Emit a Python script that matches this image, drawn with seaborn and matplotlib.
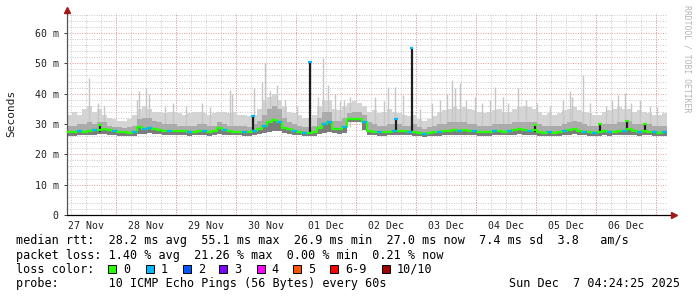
import numpy as np
import pandas as pd
import matplotlib
matplotlib.use("Agg")
import matplotlib.pyplot as plt
import matplotlib.dates as mdates
from matplotlib.ticker import MultipleLocator, FuncFormatter
from matplotlib.patches import Rectangle
import seaborn as sns

# ---------------- data ----------------
start = pd.Timestamp("2025-11-27 04:24:25")
end = pd.Timestamp("2025-12-07 04:24:25")
step_hours = 2

median_ms = [27.3, 27.4, 27.6, 27.5, 27.8, 27.9, 28.0, 28.3, 28.0, 27.6,
             27.4, 27.3, 27.2, 27.5, 29.0, 28.4, 28.8, 28.3, 28.0, 27.8,
             27.7, 27.8, 27.6, 27.6, 27.4, 27.5, 27.6, 27.6, 27.5, 27.7,
             28.6, 28.0, 27.6, 27.5, 27.5, 27.4, 27.4, 27.8, 28.3, 29.2,
             30.5, 31.3, 30.5, 28.8, 28.2, 27.8, 27.5, 27.2, 27.1, 27.4,
             28.8, 30.0, 30.6, 28.5, 28.4, 29.0, 31.6, 31.8, 31.7, 30.5,
             27.8, 27.5, 27.3, 27.4, 27.5, 27.6, 27.7, 27.6, 27.5, 27.4,
             27.0, 26.6, 27.1, 27.3, 27.5, 27.6, 27.8, 28.0, 27.8, 28.0,
             27.8, 27.7, 27.4, 27.3, 27.5, 27.7, 27.8, 27.5, 27.6, 28.0,
             28.2, 27.9, 27.8, 27.9, 27.4, 27.2, 27.3, 27.2, 27.4, 27.6,
             28.0, 28.4, 27.8, 27.5, 27.3, 27.2, 27.4, 27.6, 27.4, 27.5,
             27.6, 27.8, 28.2, 27.6, 27.5, 27.6, 27.5, 27.3, 27.2, 27.3]

low_ms = [26.2, 26.2, 26.3, 26.3, 26.4, 26.5, 26.6, 26.6, 26.5, 26.3,
          26.2, 26.1, 26.0, 26.2, 26.8, 26.8, 26.9, 26.7, 26.6, 26.5,
          26.4, 26.5, 26.3, 26.3, 26.2, 26.3, 26.4, 26.3, 26.2, 26.3,
          26.6, 26.5, 26.4, 26.3, 26.3, 26.2, 26.2, 26.4, 26.6, 27.0,
          27.5, 27.8, 27.6, 27.0, 26.7, 26.5, 26.3, 26.1, 26.0, 26.2,
          26.8, 27.2, 27.5, 26.9, 26.8, 27.0, 30.5, 30.8, 30.8, 28.0,
          26.5, 26.3, 26.2, 26.2, 26.3, 26.3, 26.4, 26.3, 26.3, 26.2,
          25.9, 25.6, 25.9, 26.1, 26.2, 26.3, 26.4, 26.5, 26.4, 26.5,
          26.4, 26.4, 26.2, 26.1, 26.2, 26.4, 26.4, 26.3, 26.3, 26.5,
          26.6, 26.5, 26.4, 26.4, 26.2, 26.1, 26.1, 26.0, 26.2, 26.3,
          26.5, 26.6, 26.4, 26.3, 26.2, 26.1, 26.2, 26.3, 26.2, 26.3,
          26.3, 26.4, 26.5, 26.3, 26.2, 26.3, 26.3, 26.1, 26.1, 26.2]

mid_ms = [29.5, 29.5, 30.0, 30.0, 30.5, 30.0, 30.5, 30.5, 29.5, 29.0,
          29.0, 28.8, 29.0, 29.5, 31.5, 32.0, 32.0, 31.0, 30.5, 30.0,
          30.0, 30.0, 29.5, 29.5, 29.5, 29.5, 30.0, 30.0, 29.5, 29.5,
          30.5, 30.0, 29.5, 29.5, 29.5, 29.5, 29.0, 30.0, 31.0, 33.0,
          35.0, 36.0, 35.0, 32.0, 30.5, 30.0, 29.5, 29.0, 29.0, 29.5,
          32.0, 34.0, 34.0, 31.0, 31.0, 32.0, 33.5, 34.0, 34.0, 33.0,
          30.5, 30.0, 29.5, 29.5, 30.0, 30.0, 30.0, 29.5, 29.5, 30.0,
          29.0, 28.5, 29.0, 29.5, 30.0, 30.0, 30.5, 30.5, 30.5, 30.5,
          30.0, 30.0, 29.5, 29.5, 29.5, 30.0, 30.0, 30.0, 30.0, 30.5,
          30.5, 30.5, 30.5, 30.5, 30.0, 29.5, 29.5, 29.5, 29.5, 30.0,
          30.5, 31.0, 30.5, 30.0, 29.5, 29.5, 29.5, 30.0, 30.0, 30.0,
          30.5, 30.5, 31.0, 30.0, 30.0, 30.0, 30.0, 29.5, 29.5, 29.5]

high_ms = [33.0, 34.0, 33.0, 35.0, 36.0, 34.0, 35.0, 33.0, 32.0, 31.5,
           31.0, 31.0, 31.5, 33.0, 35.0, 36.0, 35.0, 34.0, 34.0, 33.5,
           34.0, 34.0, 33.5, 33.0, 33.5, 34.0, 34.0, 33.5, 33.0, 33.5,
           34.0, 34.0, 33.5, 34.0, 33.0, 33.0, 32.5, 33.0, 35.0, 38.0,
           39.0, 40.0, 38.0, 36.0, 34.0, 33.5, 33.0, 32.0, 32.0, 33.0,
           36.0, 38.0, 38.0, 35.0, 34.5, 36.0, 37.0, 37.5, 37.0, 36.0,
           34.0, 34.5, 33.5, 34.0, 35.0, 34.0, 33.5, 33.0, 32.5, 33.0,
           31.5, 31.0, 31.5, 32.5, 34.0, 34.5, 35.0, 35.5, 35.0, 35.5,
           35.0, 34.5, 34.0, 33.5, 34.0, 34.5, 35.0, 34.0, 34.0, 35.0,
           35.5, 36.0, 35.5, 35.0, 34.0, 33.0, 33.5, 33.0, 33.5, 34.5,
           35.0, 35.5, 34.5, 34.0, 33.5, 33.0, 33.0, 34.0, 34.5, 35.0,
           35.5, 35.0, 35.0, 34.0, 34.5, 34.0, 33.5, 33.0, 33.0, 33.5]

# steps whose median had one lost ping (loss color 1)
loss1_steps = [2, 5, 9, 13, 15, 16, 20, 24, 27, 31, 35, 37, 39, 42, 45, 47,
               51, 52, 55, 59, 62, 65, 68, 71, 74, 78, 81, 85, 88, 92, 96,
               99, 103, 105, 108, 111, 114, 117, 119]

# isolated max-ping peaks (hours after start, ms)
peak_hours = [8.8, 12.4, 14.8, 28.0, 28.8, 31.6, 32.8, 39.2, 42.4, 47.6,
              54.0, 57.2, 65.2, 66.0, 74.8, 78.0, 79.2, 81.2, 84.0, 87.2,
              92.0, 100.4, 102.4, 104.4, 107.2, 109.2, 110.8, 113.2, 123.2,
              126.8, 128.4, 131.2, 134.4, 141.2, 146.0, 149.2, 152.0, 154.0,
              155.2, 157.2, 159.6, 163.2, 166.0, 169.2, 171.2, 174.4, 176.4,
              180.4, 183.6, 188.0, 193.2, 198.4, 201.2, 202.0, 206.4, 209.2,
              215.6, 218.0, 220.4, 223.2, 225.6, 229.2, 233.2, 236.0]
peak_ms = [45.2, 37.0, 36.0, 38.0, 41.0, 42.0, 40.0, 36.0, 37.0, 36.0,
           37.0, 35.5, 41.2, 40.0, 41.9, 44.0, 50.0, 41.0, 43.0, 38.0,
           36.0, 39.0, 51.7, 43.0, 40.0, 37.5, 38.0, 39.0, 39.0,
           37.5, 42.3, 42.3, 39.6, 35.0, 37.0, 38.0, 40.0, 44.5,
           42.0, 43.4, 38.0, 39.0, 37.0, 38.0, 42.3, 39.0, 37.0,
           41.9, 38.0, 37.0, 36.0, 38.0, 40.8, 39.0, 46.3, 37.0,
           36.0, 38.0, 39.7, 40.2, 37.0, 38.0, 36.0, 35.5]

# short median jumps (hours after start, ms, loss)
jump_hours = [13.2, 74.4, 97.2, 131.6, 137.8, 187.2, 213.2, 224.0, 231.2]
jump_ms = [29.7, 32.5, 50.5, 31.5, 55.1, 29.8, 30.0, 30.9, 30.0]
jump_loss = [0, 1, 1, 1, 1, 0, 0, 0, 0]

loss_labels = ["0", "1", "2", "3", "4", "5", "6-9", "10/10"]
loss_colors = ["#26ff00", "#00b8ff", "#0059ff", "#7e00ff", "#ff00ff",
               "#ff5500", "#ff0000", "#a00000"]

stats_line = "median rtt:  28.2 ms avg  55.1 ms max  26.9 ms min  27.0 ms now  7.4 ms sd  3.8   am/s"
loss_line = "packet loss: 1.40 % avg  21.26 % max  0.00 % min  0.21 % now"
probe_line = "probe:       10 ICMP Echo Pings (56 Bytes) every 60s"
stamp = "Sun Dec  7 04:24:25 2025"

# ---------------- figure ----------------
sns.set_theme(style="white")
mono = "DejaVu Sans Mono"
plt.rcParams["font.family"] = [mono, "DejaVu Sans"]

W, H = 697, 297
fig = plt.figure(figsize=(W / 100, H / 100), dpi=100)
fig.patch.set_facecolor("white")
ax = fig.add_axes([67 / W, 1 - 215 / H, 600 / W, 202 / H])
ax.set_facecolor("white")

n = len(median_ms)
times = start + pd.to_timedelta(np.arange(n) * step_hours, unit="h")
times_ext = times.append(pd.DatetimeIndex([end]))

def ext(a):
    return list(a) + [a[-1]]

df = pd.DataFrame({"time": times_ext, "median": ext(median_ms)})

# smoke
ax.fill_between(times_ext, ext(low_ms), ext(high_ms), step="post",
                color="#d4d4d4", lw=0, zorder=1)
ax.vlines(start + pd.to_timedelta(peak_hours, unit="h"), 29.0, peak_ms,
          color="#c6c6c6", lw=1.0, zorder=1.2)
ax.fill_between(times_ext, ext(low_ms), ext(mid_ms), step="post",
                color="#ababab", lw=0, zorder=1.5)
ax.fill_between(times_ext, ext(low_ms), ext(median_ms), step="post",
                color="#7c7c7c", lw=0, zorder=1.6)

# dark spikes of median jumps
jt = start + pd.to_timedelta(jump_hours, unit="h")
ax.vlines(jt, 27.4, jump_ms, color="#1e1e1e", lw=1.6, zorder=2.5)

# median line colored by loss
sns.lineplot(data=df, x="time", y="median", drawstyle="steps-post",
             color=loss_colors[0], lw=1.6, ax=ax, zorder=3)
for k in loss1_steps:
    ax.hlines(median_ms[k], times_ext[k], times_ext[k + 1],
              color=loss_colors[1], lw=1.6, zorder=3.2)
for t, v, l in zip(jt, jump_ms, jump_loss):
    ax.hlines(v, t - pd.Timedelta(minutes=40), t + pd.Timedelta(minutes=40),
              color=loss_colors[l], lw=1.6, zorder=3.3)

# axes limits and grid
ax.set_xlim(start, end)
ax.set_ylim(0, 66.6)
ax.set_xlabel("")
ax.set_ylabel("")

ax.yaxis.set_major_locator(MultipleLocator(10))
ax.yaxis.set_minor_locator(MultipleLocator(2))
ax.yaxis.set_major_formatter(FuncFormatter(lambda v, p: "0" if v == 0 else f"{int(v)} m"))
ax.xaxis.set_major_locator(mdates.HourLocator(byhour=[12]))
ax.xaxis.set_minor_locator(mdates.HourLocator(byhour=[0, 6, 18]))
ax.xaxis.set_major_formatter(mdates.DateFormatter("%d %b"))

dot = (0, (1, 1.5))
ax.grid(True, which="minor", axis="both", color="#c8c8c8", lw=0.7, ls=dot)
ax.grid(True, which="major", axis="x", color="#c8c8c8", lw=0.7, ls=dot)
ax.grid(True, which="major", axis="y", color="#e89a9a", lw=0.7, ls=dot)
ax.set_axisbelow(True)
for d in pd.date_range("2025-11-28", "2025-12-07", freq="D"):
    ax.axvline(d, color="#e89a9a", lw=0.7, ls=dot, zorder=0.6)

ax.tick_params(axis="x", which="major", length=0, pad=4.5, labelsize=7.1,
               labelcolor="#202020")
ax.tick_params(axis="x", which="minor", length=0)
ax.tick_params(axis="y", which="major", length=2, width=0.7, pad=4, labelsize=7.1,
               labelcolor="#202020", left=True, color="#404040")
ax.tick_params(axis="y", which="minor", length=0)
for lab in ax.get_xticklabels() + ax.get_yticklabels():
    lab.set_family(mono)

for s in ["top", "right"]:
    ax.spines[s].set_visible(False)
ax.spines["left"].set_color("#555555")
ax.spines["left"].set_linewidth(0.9)
ax.spines["bottom"].set_visible(False)
ax.plot([0, 1.012], [0, 0], transform=ax.transAxes, color="black", lw=0.9,
        clip_on=False, zorder=5)
ax.plot([0, 0], [1.0, 1.02], transform=ax.transAxes, color="#555555", lw=0.9,
        clip_on=False, zorder=5)
ax.plot([1.0115], [0], marker=">", ms=4, color="#a01818", mec="#a01818",
        transform=ax.transAxes, clip_on=False, zorder=6)
ax.plot([0], [1.017], marker="^", ms=4, color="#a01818", mec="#a01818",
        transform=ax.transAxes, clip_on=False, zorder=6)

# texts
fig.text(11 / W, 1 - 113 / H, "Seconds", rotation=90, ha="center", va="center",
         fontsize=8, family=mono, color="#202020")
fig.text(687 / W, 1 - 59 / H, "RRDTOOL / TOBI OETIKER", rotation=270,
         ha="center", va="center", fontsize=5.9, family=mono, color="#b4b4b4")

fs = 8.5
fig.text(16 / W, 1 - 240.7 / H, stats_line, ha="left", va="center", fontsize=fs,
         family=mono, color="black")
fig.text(16 / W, 1 - 255.3 / H, loss_line, ha="left", va="center", fontsize=fs,
         family=mono, color="black")
fig.text(16 / W, 1 - 269.3 / H, "loss color:", ha="left", va="center", fontsize=fs,
         family=mono, color="black")
fig.text(16 / W, 1 - 283.5 / H, probe_line, ha="left", va="center", fontsize=fs,
         family=mono, color="black")
fig.text(680 / W, 1 - 283.5 / H, stamp, ha="right", va="center", fontsize=fs,
         family=mono, color="black")

sq_x = [108.3, 145.7, 182.7, 219.3, 256.7, 293.3, 330.0, 381.7]
for x0, lab, col in zip(sq_x, loss_labels, loss_colors):
    fig.add_artist(Rectangle((x0 / W, 1 - 273.3 / H), 8 / W, 8 / H,
                             transform=fig.transFigure, facecolor=col,
                             edgecolor="black", lw=0.7))
    fig.text((x0 + 15) / W, 1 - 269.3 / H, lab, ha="left", va="center",
             fontsize=fs, family=mono, color="black")

fig.savefig("out.png", dpi=100, facecolor="white")
